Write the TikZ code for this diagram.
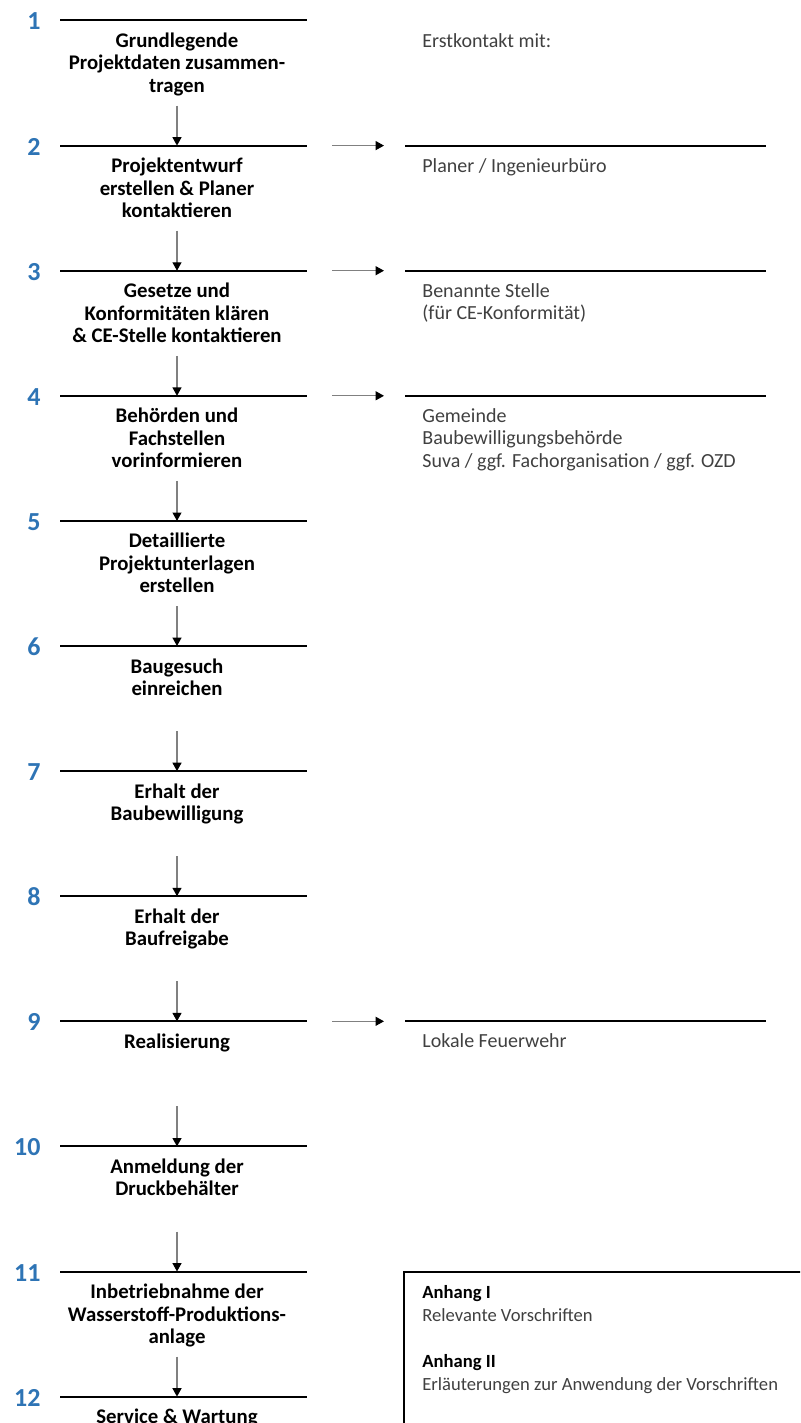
\documentclass[tikz,border=0pt]{standalone}
\usepackage{fontspec}
\setmainfont{Carlito}
\usetikzlibrary{arrows.meta}
\definecolor{stepblue}{RGB}{46,116,181}
\definecolor{contactgray}{RGB}{64,64,64}

\begin{document}
\begin{tikzpicture}[
  x=0.5pt, y=-0.5pt,
  >={Triangle[width=4.5pt,length=4.2pt,color=black]},
  stepnum/.style={anchor=east, inner sep=0pt, text=stepblue, font=\fontsize{13}{13}\selectfont\bfseries},
  steptext/.style={anchor=base, inner sep=0pt, align=center, font=\fontsize{10.4}{11.25}\selectfont\bfseries},
  contact/.style={anchor=base west, inner sep=0pt, align=left, text=contactgray, font=\fontsize{10}{11.25}\selectfont},
  stepline/.style={line width=1pt},
  flow/.style={->, draw=black!50, line width=0.6pt}
]
  \useasboundingbox (0,0) rectangle (800,1423);
  \clip (0,0) rectangle (800,1423);

  % step lines and numbers
  \node[stepnum] (n1) at (41,21) {1};
  \draw[stepline] (60,20.5) -- (307,20.5);
  \node[stepnum] (n2) at (41,147) {2};
  \draw[stepline] (60,145.6) -- (307,145.6);
  \node[stepnum] (n3) at (41,272) {3};
  \draw[stepline] (60,270.7) -- (307,270.7);
  \node[stepnum] (n4) at (41,397) {4};
  \draw[stepline] (60,395.8) -- (307,395.8);
  \node[stepnum] (n5) at (41,522) {5};
  \draw[stepline] (60,520.9) -- (307,520.9);
  \node[stepnum] (n6) at (41,647) {6};
  \draw[stepline] (60,646) -- (307,646);
  \node[stepnum] (n7) at (41,772) {7};
  \draw[stepline] (60,771.1) -- (307,771.1);
  \node[stepnum] (n8) at (41,897) {8};
  \draw[stepline] (60,896.2) -- (307,896.2);
  \node[stepnum] (n9) at (41,1022) {9};
  \draw[stepline] (60,1021.3) -- (307,1021.3);
  \node[stepnum] (n10) at (41,1147) {10};
  \draw[stepline] (60,1146.4) -- (307,1146.4);
  \node[stepnum] (n11) at (41,1273) {11};
  \draw[stepline] (60,1271.5) -- (307,1271.5);
  \node[stepnum] (n12) at (41,1398) {12};
  \draw[stepline] (60,1396.6) -- (307,1396.6);

  % step texts (base = last line)
  \node[steptext] (s1) at (177,92.5) {Grundlegende\\Projektdaten zusammen-\\tragen};
  \node[steptext] (s2) at (177,217.6) {Projektentwurf\\erstellen \& Planer\\kontaktieren};
  \node[steptext] (s3) at (177,342.7) {Gesetze und\\Konformitäten klären\\\& CE-Stelle kontaktieren};
  \node[steptext] (s4) at (177,467.8) {Behörden und\\Fachstellen\\vorinformieren};
  \node[steptext] (s5) at (177,592.9) {Detaillierte\\Projektunterlagen\\erstellen};
  \node[steptext] (s6) at (177,695.5) {Baugesuch\\einreichen};
  \node[steptext] (s7) at (177,820.6) {Erhalt der\\Baubewilligung};
  \node[steptext] (s8) at (177,945.7) {Erhalt der\\Baufreigabe};
  \node[steptext] (s9) at (177,1048.3) {Realisierung};
  \node[steptext] (s10) at (177,1195.9) {Anmeldung der\\Druckbehälter};
  \node[steptext] (s11) at (177,1343.5) {Inbetriebnahme der\\Wasserstoff-Produktions-\\anlage};
  \node[steptext] (s12) at (177,1423.6) {Service \& Wartung};

  % arrows down to the next step
  \coordinate (in2) at (177,145.6);
  \coordinate (in3) at (177,270.7);
  \coordinate (in4) at (177,395.8);
  \coordinate (in5) at (177,520.9);
  \coordinate (in6) at (177,646);
  \coordinate (in7) at (177,771.1);
  \coordinate (in8) at (177,896.2);
  \coordinate (in9) at (177,1021.3);
  \coordinate (in10) at (177,1146.4);
  \coordinate (in11) at (177,1271.5);
  \coordinate (in12) at (177,1396.6);
  \draw[flow] ([yshift=20pt]in2) -- (in2);
  \draw[flow] ([yshift=20pt]in3) -- (in3);
  \draw[flow] ([yshift=20pt]in4) -- (in4);
  \draw[flow] ([yshift=20pt]in5) -- (in5);
  \draw[flow] ([yshift=20pt]in6) -- (in6);
  \draw[flow] ([yshift=20pt]in7) -- (in7);
  \draw[flow] ([yshift=20pt]in8) -- (in8);
  \draw[flow] ([yshift=20pt]in9) -- (in9);
  \draw[flow] ([yshift=20pt]in10) -- (in10);
  \draw[flow] ([yshift=20pt]in11) -- (in11);
  \draw[flow] ([yshift=20pt]in12) -- (in12);

  % contacts on the right
  \node[contact] (first) at (422,47.5) {Erstkontakt mit:};
  \coordinate (c2) at (405,145.6);
  \coordinate (c3) at (405,270.7);
  \coordinate (c4) at (405,395.8);
  \coordinate (c9) at (405,1021.3);
  \draw[stepline] (c2) -- (766,145.6);
  \draw[stepline] (c3) -- (766,270.7);
  \draw[stepline] (c4) -- (766,395.8);
  \draw[stepline] (c9) -- (766,1021.3);
  \draw[flow] ([xshift=-36.5pt]c2) -- ([xshift=-10.5pt]c2);
  \draw[flow] ([xshift=-36.5pt]c3) -- ([xshift=-10.5pt]c3);
  \draw[flow] ([xshift=-36.5pt]c4) -- ([xshift=-10.5pt]c4);
  \draw[flow] ([xshift=-36.5pt]c9) -- ([xshift=-10.5pt]c9);
  \node[contact] (k2) at (422,172.1) {Planer / Ingenieurbüro};
  \node[contact] (k3) at (422,319.7) {Benannte Stelle\\(für CE-Konformität)};
  \node[contact] (k4) at (422,467.3) {Gemeinde\\Baubewilligungsbehörde\\Suva / ggf. Fachorganisation / ggf. OZD};
  \node[contact] (k9) at (422,1047.8) {Lokale Feuerwehr};

  % annex box
  \draw[line width=0.8pt] (404,1272) rectangle (812,1440);
  \node[contact, font=\fontsize{9.3}{11.5}\selectfont] (annex) at (422,1390)
    {\textcolor{black}{\bfseries Anhang I}\\Relevante Vorschriften\\[11.5pt]\textcolor{black}{\bfseries Anhang II}\\Erläuterungen zur Anwendung der Vorschriften};
\end{tikzpicture}
\end{document}
